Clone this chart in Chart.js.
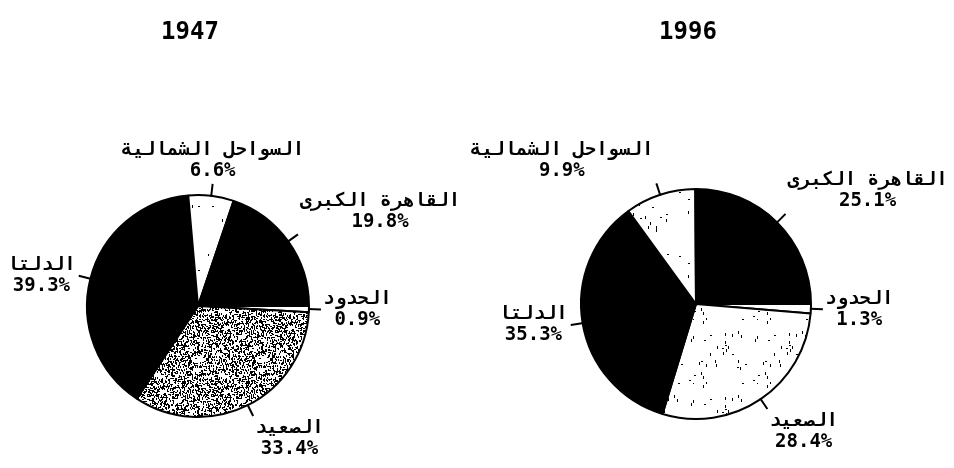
<!DOCTYPE html>
<html lang="ar">
<head>
<meta charset="utf-8">
<script src="https://cdn.jsdelivr.net/npm/chart.js@4.4.0/dist/chart.umd.min.js"></script>
<style>
  body { margin: 0; background: #fff; }
  #wrap { position: relative; width: 954px; height: 468px; background: #fff; }
  #wrap canvas { position: absolute; top: 0; left: 0; }
</style>
</head>
<body>
<div id="wrap">
  <canvas id="pie1947" width="954" height="468"></canvas>
  <canvas id="pie1996" width="954" height="468"></canvas>
</div>
<script>
// slice order runs clockwise from 3 o'clock
const regions = ['الحدود', 'الصعيد', 'الدلتا', 'السواحل الشمالية', 'القاهرة الكبرى'];
const shares1947 = [0.9, 33.4, 39.3, 6.6, 19.8];
const shares1996 = [1.3, 28.4, 35.3, 9.9, 25.1];
const years = ['1947', '1996'];

const FONT = "'DejaVu Sans Mono', 'DejaVu Sans', monospace";

// fixed speckle textures for the shaded slices
function stipple(kind, count, seed) {
    const c = document.createElement('canvas');
    c.width = c.height = 64;
    const g = c.getContext('2d');
    g.fillStyle = '#fff';
    g.fillRect(0, 0, 64, 64);
    g.fillStyle = '#000';
    let s = seed;
    const rnd = () => (s = (s * 16807) % 2147483647) / 2147483647;
    if (kind === 'dense') {
        for (let y = 0; y < 64; y++) {
            for (let x = 0; x < 64; x++) {
                const r = rnd();
                if (r < 0.15) g.fillRect(x, y, 1, 2);
                else if (r < 0.25) g.fillRect(x, y, 2, 1);
            }
        }
    } else {
        for (let i = 0; i < count; i++) {
            const x = Math.floor(rnd() * 64), y = Math.floor(rnd() * 64);
            if (rnd() < 0.7) g.fillRect(x, y, 1, 3);
            else g.fillRect(x, y, 2, 1);
        }
    }
    return g.createPattern(c, 'repeat');
}

const sliceLabels = {
    id: 'sliceLabels',
    afterDraw(chart, args, opts) {
        const ctx = chart.ctx;
        const arcs = chart.getDatasetMeta(0).data;
        const values = chart.data.datasets[0].data;
        ctx.save();
        ctx.fillStyle = '#000';
        ctx.strokeStyle = '#000';
        ctx.lineWidth = 2;

        // year heading
        ctx.font = 'bold 24px ' + FONT;
        ctx.textAlign = 'center';
        ctx.textBaseline = 'middle';
        ctx.fillText(opts.title, arcs[0].x - 8, 33);

        ctx.font = 'bold 19px ' + FONT;
        const lineH = 21;
        arcs.forEach((arc, i) => {
            const mid = (arc.startAngle + arc.endAngle) / 2;
            const cx = Math.cos(mid), sy = Math.sin(mid);
            const r = arc.outerRadius;
            const ex = arc.x + cx * (r + 12), ey = arc.y + sy * (r + 12);
            ctx.beginPath();
            ctx.moveTo(arc.x + cx * (r - 1), arc.y + sy * (r - 1));
            ctx.lineTo(ex, ey);
            ctx.stroke();

            const lines = [chart.data.labels[i], values[i].toFixed(1) + '%'];
            const w = Math.max(...lines.map(t => ctx.measureText(t).width));
            let bx;
            if (cx > 0.3) bx = ex + 2 + w / 2;
            else if (cx < -0.3) bx = ex - 3 - w / 2;
            else bx = ex;
            let top;
            if (sy < -0.3) top = ey - 2 - lineH * 2;
            else if (sy > 0.3) top = ey + 2;
            else top = ey - lineH;
            lines.forEach((t, k) => ctx.fillText(t, bx, top + lineH * (k + 0.5)));
        });
        ctx.restore();
    }
};

function makePie(id, values, fills, radius, padding, title) {
    return new Chart(document.getElementById(id), {
        type: 'pie',
        data: {
            labels: regions,
            datasets: [{
                data: values,
                backgroundColor: fills,
                borderColor: '#000',
                borderWidth: 2,
                radius: radius,
                hoverOffset: 0
            }]
        },
        options: {
            responsive: false,
            animation: false,
            rotation: 90,
            events: [],
            layout: { padding: padding },
            plugins: {
                legend: { display: false },
                tooltip: { enabled: false },
                sliceLabels: { title: title }
            }
        },
        plugins: [sliceLabels]
    });
}

makePie('pie1947', shares1947,
    ['#fff', stipple('dense', 0, 12345), '#000', stipple('sparse', 14, 777), '#000'],
    111, { left: 87, right: 645, top: 195, bottom: 51 }, years[0]);

makePie('pie1996', shares1996,
    ['#fff', stipple('sparse', 34, 4242), '#000', stipple('sparse', 20, 999), '#000'],
    115, { left: 581, right: 143, top: 189, bottom: 49 }, years[1]);
</script>
</body>
</html>
